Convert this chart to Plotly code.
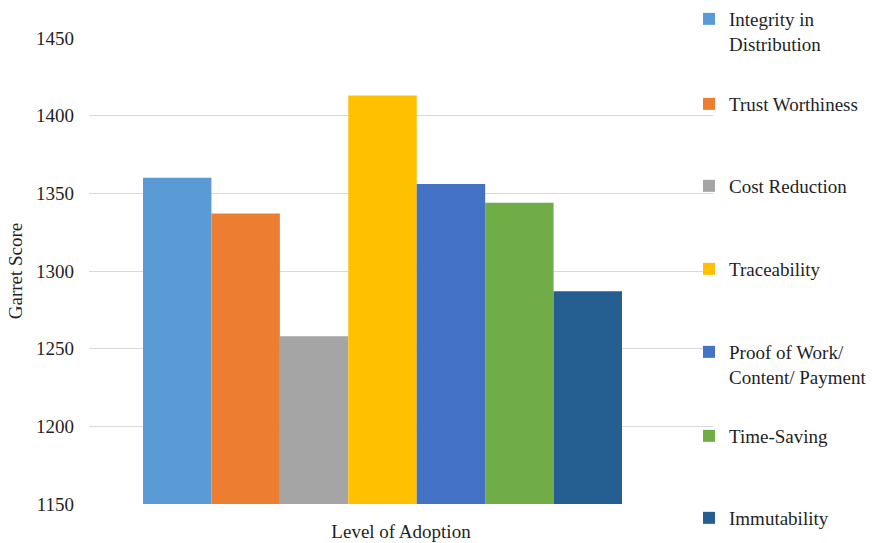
import plotly.graph_objects as go

category = ["Level of Adoption"]
series_names = [
    "Integrity in<br>Distribution",
    "Trust Worthiness",
    "Cost Reduction",
    "Traceability",
    "Proof of Work/<br>Content/ Payment",
    "Time-Saving",
    "Immutability",
]
series_values = [1360, 1337, 1258, 1413, 1356, 1344, 1287]
series_colors = ["#5B9BD5", "#ED7D31", "#A5A5A5", "#FFC000", "#4472C4", "#70AD47", "#255E91"]
y_ticks = [1150, 1200, 1250, 1300, 1350, 1400, 1450]

FONT = "Liberation Serif, Times New Roman, serif"
TXT = "#1f1f1f"

# legend first-line centers (px from top of page)
legend_centers = [19, 104, 186, 269, 352, 436, 518]
plot_left, plot_right = 89, 713
plot_top, plot_bottom = 38, 504
plot_h = plot_bottom - plot_top
plot_w = plot_right - plot_left

fig = go.Figure()
layout_legends = {}
for i, (name, val, col) in enumerate(zip(series_names, series_values, series_colors)):
    lname = "legend" if i == 0 else f"legend{i+1}"
    fig.add_trace(go.Bar(
        x=category, y=[val], name=name,
        marker=dict(color=col, line=dict(width=0)),
        legend=lname,
    ))
    top_px = legend_centers[i] - 19
    layout_legends[lname] = dict(
        x=(689 - plot_left) / plot_w, xanchor="left",
        y=(plot_bottom - top_px) / plot_h, yanchor="top",
        bgcolor="rgba(0,0,0,0)", borderwidth=0,
        font=dict(family=FONT, size=19, color=TXT),
        valign="top",
    )

fig.update_layout(
    width=872, height=543,
    margin=dict(l=plot_left, r=872 - plot_right, t=plot_top, b=543 - plot_bottom, autoexpand=False),
    paper_bgcolor="white", plot_bgcolor="white",
    barmode="group", bargap=0.184, bargroupgap=0,
    showlegend=True,
    font=dict(family=FONT, size=19, color=TXT),
    **layout_legends,
)
fig.update_xaxes(
    type="category", range=[-0.5, 0.563],
    showticklabels=False, showgrid=False, zeroline=False, showline=False,
    title=dict(text="Level of Adoption", font=dict(family=FONT, size=19, color=TXT), standoff=20),
)
fig.update_yaxes(
    range=[1150, 1450], tickvals=y_ticks,
    showgrid=True, gridcolor="#D9D9D9", gridwidth=1,
    zeroline=False, showline=False,
    tickfont=dict(family=FONT, size=19, color=TXT),
    ticklabelstandoff=14,
    title=dict(text="Garret Score", font=dict(family=FONT, size=19, color=TXT), standoff=8),
)

fig.write_html("out.html")
